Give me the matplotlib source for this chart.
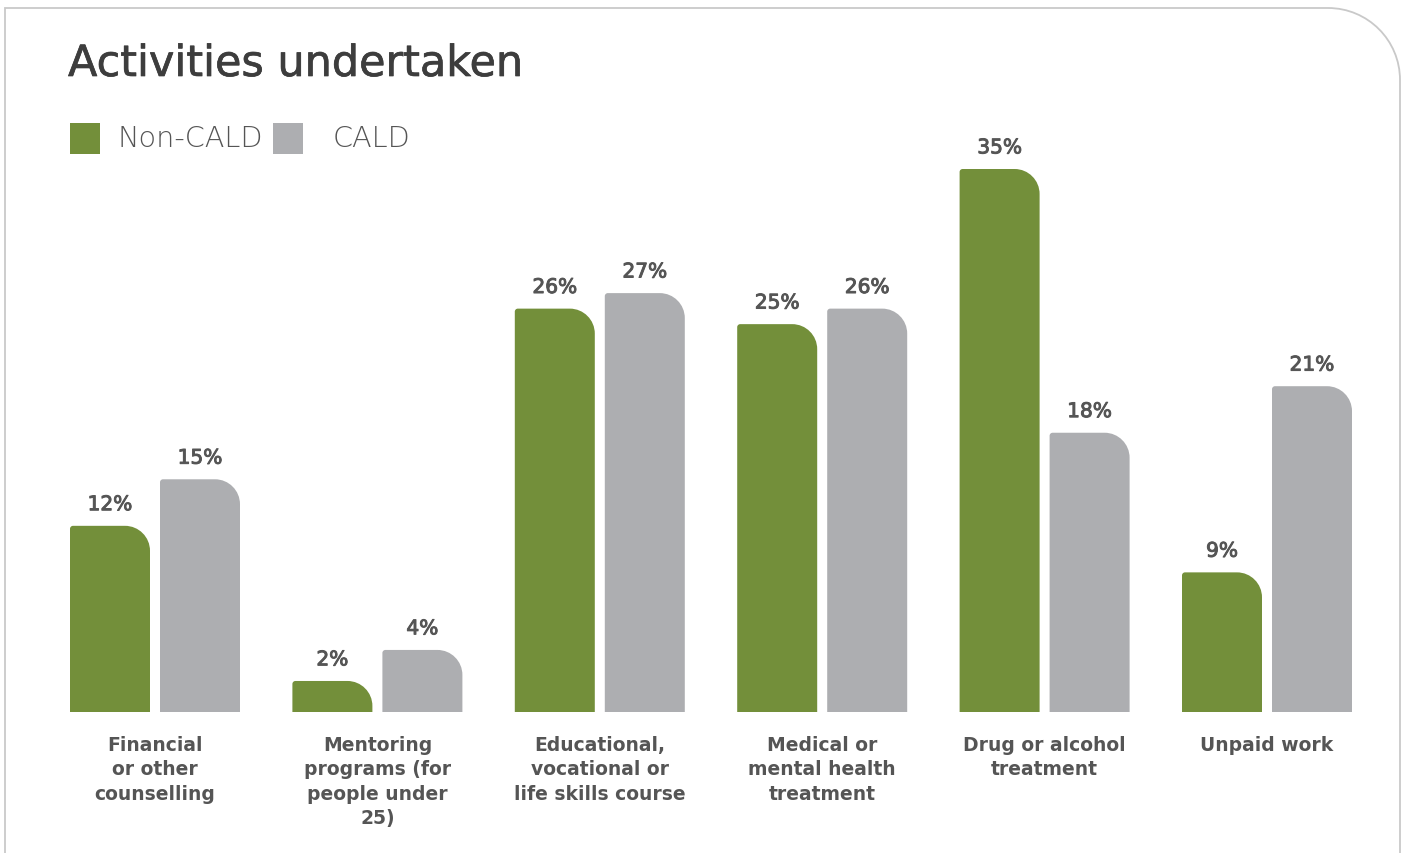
import matplotlib
matplotlib.use("Agg")
import matplotlib.pyplot as plt
import matplotlib.patheffects as pe
from matplotlib.path import Path
from matplotlib.patches import PathPatch, Rectangle
from matplotlib.transforms import Affine2D

# ---------------- data ----------------
categories = [
    "Financial\nor other\ncounselling",
    "Mentoring\nprograms (for\npeople under\n25)",
    "Educational,\nvocational or\nlife skills course",
    "Medical or\nmental health\ntreatment",
    "Drug or alcohol\ntreatment",
    "Unpaid work",
]
non_cald = [12, 2, 26, 25, 35, 9]
cald = [15, 4, 27, 26, 18, 21]
series_names = ["Non-CALD", "CALD"]
title = "Activities undertaken"

GREEN = "#738f3a"
GREY = "#adaeb1"
TEXT = "#555555"
TITLE_C = "#3d3d3d"
FONT = "DejaVu Sans"

W, H = 1407, 854
fig = plt.figure(figsize=(W / 100, H / 100), dpi=100)

# pixel -> figure transform (image coords, origin top-left)
pix = Affine2D().scale(1 / W, -1 / H).translate(0, 1) + fig.transFigure

# ---- panel border with rounded top-right corner ----
R = 72
L, T, Rt = 5, 9, 1400
k = 0.5523
verts = [(L, H + 5), (L, T), (Rt - R, T),
         (Rt - R + k * R, T), (Rt, T + R - k * R), (Rt, T + R),
         (Rt, H + 5)]
codes = [Path.MOVETO, Path.LINETO, Path.LINETO,
         Path.CURVE4, Path.CURVE4, Path.CURVE4, Path.LINETO]
fig.patches.append(PathPatch(Path(verts, codes), transform=pix, fill=False,
                             edgecolor="#c9c9c9", lw=1.3))

# ---- axes ----
xlim = (-0.5, 5.5)
ylim = (0, 35)
ax_left_px, ax_right_px = 43.8, 1378.2
base_px, top_px = 713, 170
ax = fig.add_axes([ax_left_px / W, (H - base_px) / H,
                   (ax_right_px - ax_left_px) / W, (base_px - top_px) / H])
ax.set_xlim(*xlim)
ax.set_ylim(*ylim)
for s in ax.spines.values():
    s.set_visible(False)
ax.set_yticks([])
ax.patch.set_alpha(0)

pxx = (ax_right_px - ax_left_px) / (xlim[1] - xlim[0])
pxy = (base_px - top_px) / (ylim[1] - ylim[0])

bar_w = 80 / pxx
offset = 45 / pxx


def rounded_bar(xc, h, color, r_tr=25, r_tl=3):
    x0, x1 = xc - bar_w / 2, xc + bar_w / 2
    rtr = min(r_tr, h * pxy)
    rtl = min(r_tl, h * pxy)
    trx, try_ = rtr / pxx, rtr / pxy
    tlx, tly = rtl / pxx, rtl / pxy
    v = [(x0, 0), (x0, h - tly),
         (x0, h - tly + k * tly), (x0 + tlx - k * tlx, h), (x0 + tlx, h),
         (x1 - trx, h),
         (x1 - trx + k * trx, h), (x1, h - try_ + k * try_), (x1, h - try_),
         (x1, 0), (x0, 0)]
    c = [Path.MOVETO, Path.LINETO,
         Path.CURVE4, Path.CURVE4, Path.CURVE4,
         Path.LINETO,
         Path.CURVE4, Path.CURVE4, Path.CURVE4,
         Path.LINETO, Path.CLOSEPOLY]
    ax.add_patch(PathPatch(Path(v, c), facecolor=color, edgecolor="none"))


stroke = [pe.withStroke(linewidth=0.7, foreground=TEXT)]
for i, (a, b) in enumerate(zip(non_cald, cald)):
    for xc, val, col in ((i - offset, a, GREEN), (i + offset, b, GREY)):
        rounded_bar(xc, val, col)
        ax.annotate(f"{val}%", (xc, val), xytext=(0, 15.2), textcoords="offset points",
                    ha="center", va="center", fontsize=14.5, color=TEXT,
                    family=FONT, fontweight="normal", path_effects=stroke)

ax.set_xticks(range(len(categories)))
ax.set_xticklabels(categories, fontsize=13.5, color=TEXT, family=FONT,
                   fontweight="semibold", linespacing=1.36,
                   multialignment="center")
ax.tick_params(axis="x", length=0, pad=16.5)

# ---- title ----
fig.text(68 / W, 1 - 65 / H, title, transform=fig.transFigure, fontsize=30.9,
         color=TITLE_C, family=FONT, va="center", ha="left",
         path_effects=[pe.withStroke(linewidth=0.5, foreground=TITLE_C)])

# ---- legend ----
for xs, col, lab, xt in ((70, GREEN, series_names[0], 118),
                         (273, GREY, series_names[1], 333)):
    fig.patches.append(Rectangle((xs, 155), 30, -31, transform=pix,
                                 facecolor=col, edgecolor="none"))
    fig.text(xt / W, 1 - 139 / H, lab, fontsize=20.7, color=TEXT, family=FONT,
             fontweight="light", va="center", ha="left")

fig.savefig("out.png", dpi=100)
